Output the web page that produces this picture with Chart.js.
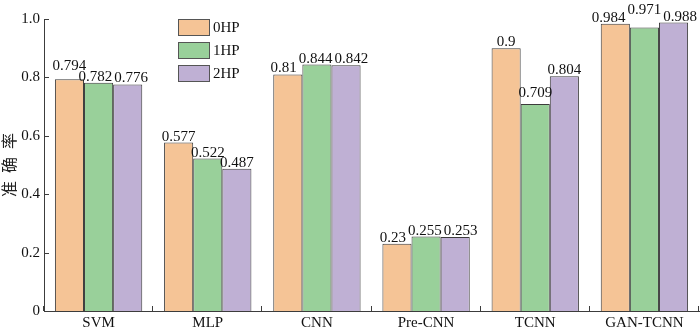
<!DOCTYPE html>
<html><head><meta charset="utf-8">
<script src="https://cdn.jsdelivr.net/npm/chart.js@4/dist/chart.umd.min.js"></script>
<style>html,body{margin:0;padding:0;background:#fff}#wrap{width:700px;height:333px}</style>
</head><body><div id="wrap"><canvas id="c" width="700" height="333"></canvas></div>
<script>
const categories = ['SVM', 'MLP', 'CNN', 'Pre-CNN', 'TCNN', 'GAN-TCNN'];
const seriesNames = ['0HP', '1HP', '2HP'];
const hp0 = [0.794, 0.577, 0.81, 0.23, 0.9, 0.984];
const hp1 = [0.782, 0.522, 0.844, 0.255, 0.709, 0.971];
const hp2 = [0.776, 0.487, 0.842, 0.253, 0.804, 0.988];
const yTicks = [0, 0.2, 0.4, 0.6, 0.8, 1.0];

const FONT = '"Liberation Serif", "Times New Roman", serif';
const colors = ['#F5C496', '#99D09A', '#BFB0D4'];
const edge = '#3c3c3c';

const labelPlugin = {
  id: 'valLabels',
  afterDatasetsDraw(chart, args, opts) {
    const ctx = chart.ctx;
    ctx.save();
    ctx.font = '15px ' + FONT;
    ctx.fillStyle = '#111';
    ctx.textAlign = 'center';
    ctx.textBaseline = 'alphabetic';
    const nDs = chart.data.datasets.length;
    for (let i = 0; i < categories.length; i++) {
      const items = [];
      for (let di = 0; di < nDs; di++) {
        const bar = chart.getDatasetMeta(di).data[i];
        const txt = String(chart.data.datasets[di].data[i]);
        const extra = (opts.raise && opts.raise[di + ':' + i]) || 0;
        items.push({ txt, x: bar.x, y: bar.y - 2 - extra, w: ctx.measureText(txt).width });
      }
      for (let it = 0; it < 20; it++) {
        for (let k = 0; k < items.length - 1; k++) {
          const L = items[k], R = items[k + 1];
          if (Math.abs(L.y - R.y) >= 10) continue;
          const ov = (L.x + L.w / 2) - (R.x - R.w / 2) + 2;
          if (ov > 0.05) { L.x -= ov / 2; R.x += ov / 2; }
        }
      }
      items.forEach(o => ctx.fillText(o.txt, o.x, o.y));
    }
    ctx.restore();
  }
};

const axisPlugin = {
  id: 'axisDeco',
  afterDraw(chart) {
    const ctx = chart.ctx;
    const xs = chart.scales.x, ys = chart.scales.y;
    const a = chart.chartArea;
    ctx.save();
    ctx.strokeStyle = edge;
    ctx.lineWidth = 1;
    yTicks.forEach(v => {
      const y = Math.round(ys.getPixelForValue(v)) + 0.5;
      ctx.beginPath(); ctx.moveTo(a.left, y); ctx.lineTo(a.left + 5, y); ctx.stroke();
    });
    const step = xs.getPixelForTick(1) - xs.getPixelForTick(0);
    for (let i = 0; i <= categories.length; i++) {
      const x = Math.round(xs.getPixelForTick(0) - step / 2 + i * step) - 0.5;
      ctx.beginPath(); ctx.moveTo(x, a.bottom); ctx.lineTo(x, a.bottom - 5); ctx.stroke();
    }
    ctx.fillStyle = '#222';
    ctx.font = '16px "Noto Sans CJK SC", sans-serif';
    ctx.translate(9, (a.top + a.bottom) / 2);
    ctx.rotate(-Math.PI / 2);
    ctx.textAlign = 'center';
    ctx.textBaseline = 'middle';
    try { ctx.letterSpacing = '8px'; } catch (e) {}
    ctx.fillText('准确率', 4, 0);
    ctx.restore();

    ctx.save();
    ctx.font = '15px ' + FONT;
    ctx.textBaseline = 'middle';
    ctx.textAlign = 'left';
    seriesNames.forEach((n, k) => {
      const top = 19 + k * 23;
      ctx.fillStyle = colors[k];
      ctx.fillRect(178, top, 32, 17);
      ctx.strokeStyle = '#555';
      ctx.lineWidth = 1;
      ctx.strokeRect(178.5, top + 0.5, 31, 16);
      ctx.fillStyle = '#111';
      ctx.fillText(n, 213, top + 9);
    });
    ctx.restore();
  }
};

new Chart(document.getElementById('c'), {
  type: 'bar',
  data: {
    labels: categories,
    datasets: [hp0, hp1, hp2].map((d, k) => ({
      label: seriesNames[k],
      data: d,
      backgroundColor: colors[k],
      borderColor: edge,
      borderWidth: 1,
      categoryPercentage: 0.8,
      barPercentage: 1.0
    }))
  },
  options: {
    responsive: false,
    animation: false,
    devicePixelRatio: 1,
    layout: { padding: { top: 19, right: 1, left: 0, bottom: 0 } },
    plugins: {
      legend: { display: false },
      tooltip: { enabled: false },
      valLabels: { raise: { '0:0': 7, '1:5': 11, '1:4': 5 } }
    },
    scales: {
      x: {
        grid: { display: false, drawTicks: false },
        border: { display: true, color: edge, width: 1 },
        ticks: { color: '#111', font: { family: FONT, size: 15 }, padding: 3 },
        afterFit(s) { s.height = 22; }
      },
      y: {
        min: 0, max: 1.0,
        grid: { display: false, drawTicks: false },
        border: { display: true, color: edge, width: 1 },
        afterBuildTicks(s) { s.ticks = yTicks.map(v => ({ value: v })); },
        ticks: {
          color: '#111', font: { family: FONT, size: 15 }, padding: 4,
          callback: v => v === 0 ? '0' : v.toFixed(1)
        },
        afterFit(s) { s.width = 44; }
      }
    }
  },
  plugins: [labelPlugin, axisPlugin]
});
</script>
</body></html>
